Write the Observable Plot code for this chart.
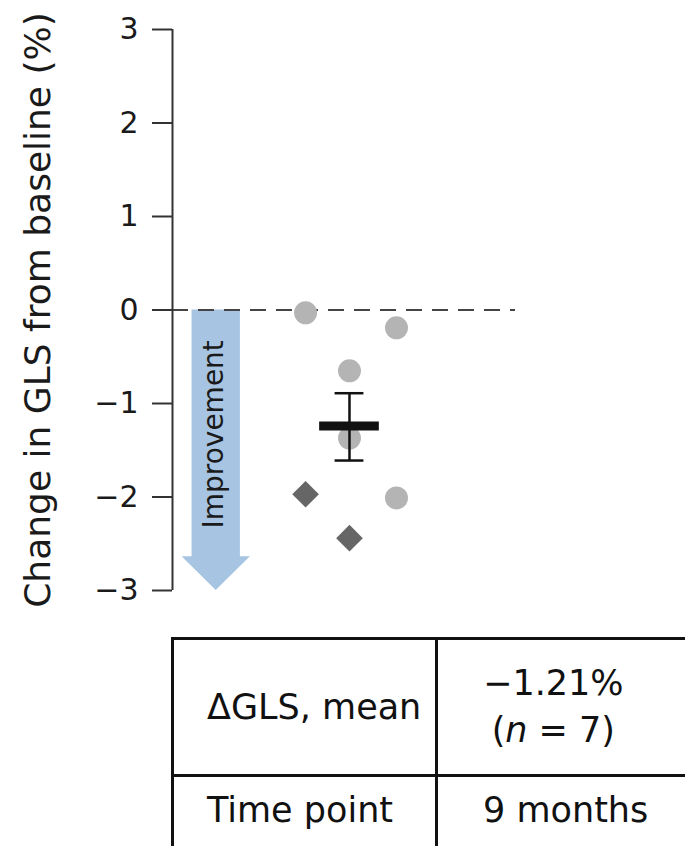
<!DOCTYPE html>
<html>
<head>
<meta charset="utf-8">
<script src="https://cdn.jsdelivr.net/npm/d3@7"></script>
<script src="https://cdn.jsdelivr.net/npm/@observablehq/plot@0.6"></script>
<style>
  html, body { margin: 0; padding: 0; background: #fff; }
  #wrap { position: relative; width: 685px; height: 846px; overflow: hidden; font-family: "DejaVu Sans", sans-serif; color: #111; }
  #wrap g[aria-label="y-axis tick label"] { font-size: 30px; }
  #tbl { position: absolute; left: 171px; top: 637px; border-collapse: collapse; font-size: 35px; }
  #tbl td { border: 3px solid #111; padding: 0; white-space: nowrap; }
  #tbl td.lab { width: 239px; padding-left: 33px; text-align: left; }
  #tbl td.val { width: 231px; padding-left: 45px; text-align: left; border-right: none; }
  #tbl tr.r1 td { height: 134px; }
  #tbl tr.r2 td { height: 80px; vertical-align: top; padding-top: 13px; border-bottom: none; }
  #tbl .stack { display: inline-block; text-align: center; line-height: 47px; }
</style>
</head>
<body>
<div id="wrap"></div>
<script>
// ---- data ----
const yTicks = [-3, -2, -1, 0, 1, 2, 3];
const pointX = [0.388, 0.653, 0.516, 0.516, 0.653, 0.388, 0.516];   // horizontal jitter
const pointY = [-0.03, -0.19, -0.65, -1.37, -2.01, -1.97, -2.44];
const pointShape = ["circle", "circle", "circle", "circle", "circle", "diamond", "diamond"];
const meanChange = -1.24;
const errHigh = -0.89;
const errLow = -1.61;
const yLabel = "Change in GLS from baseline (%)";
const arrowLabel = "Improvement";
const tableLabels = ["ΔGLS, mean", "Time point"];
const tableValues = ["−1.21%", "9 months"];
const tableNoteVar = "n";
const tableNoteVal = "7";

// ---- chart ----
const groupCenter = 0.516;
const points = pointX.map((x, i) => ({x, y: pointY[i], shape: pointShape[i]}));

const arrowCenter = 0.1275, shaftHalf = 0.0705, headHalf = 0.0995, headStart = -2.64, arrowTip = -3;
const arrowShape = [
  {y: 0, x1: arrowCenter - shaftHalf, x2: arrowCenter + shaftHalf},
  {y: headStart, x1: arrowCenter - shaftHalf, x2: arrowCenter + shaftHalf},
  {y: headStart, x1: arrowCenter - headHalf, x2: arrowCenter + headHalf},
  {y: arrowTip, x1: arrowCenter, x2: arrowCenter}
];

const chart = Plot.plot({
  width: 685,
  height: 620,
  marginLeft: 172,
  marginRight: 170,
  marginTop: 29,
  marginBottom: 30,
  x: {domain: [0, 1], axis: null},
  y: {domain: [-3, 3]},
  style: {fontFamily: "DejaVu Sans", fontSize: "30px", color: "#1a1a1a", background: "#fff", overflow: "visible"},
  marks: [
    Plot.areaX(arrowShape, {y: "y", x1: "x1", x2: "x2", fill: "#a7c5e2", curve: "linear"}),
    Plot.ruleY([0], {x1: 0, x2: 1, stroke: "#444", strokeWidth: 2, strokeDasharray: "16,10"}),
    Plot.ruleX([0], {y1: -3, y2: 3, stroke: "#333", strokeWidth: 2}),
    Plot.axisY({ticks: yTicks, tickFormat: d3.format("d"), tickSize: 20, tickPadding: 14, label: null, fontSize: 30, stroke: "#333", strokeWidth: 2}),
    Plot.text([yLabel], {text: d => d, frameAnchor: "left", textAnchor: "middle", dx: -134, rotate: -90, fontSize: 36, fill: "#1a1a1a"}),
    Plot.text([arrowLabel], {text: d => d, x: arrowCenter - 0.006, y: -1.33, rotate: -90, fontSize: 28, fill: "#1a1a1a"}),
    Plot.dot(points.filter(d => d.shape === "circle"), {x: "x", y: "y", r: 11.5, fill: "#b4b4b4", symbol: "circle"}),
    Plot.dot(points.filter(d => d.shape === "diamond"), {x: "x", y: "y", r: 12, fill: "#666666", symbol: "diamond2"}),
    Plot.ruleX([groupCenter], {y1: errLow, y2: errHigh, stroke: "#111", strokeWidth: 2.5}),
    Plot.ruleY([errLow, errHigh], {x1: groupCenter - 0.042, x2: groupCenter + 0.042, stroke: "#111", strokeWidth: 2.5}),
    Plot.ruleY([meanChange], {x1: groupCenter - 0.087, x2: groupCenter + 0.087, stroke: "#111", strokeWidth: 9})
  ]
});

const wrap = document.getElementById("wrap");
wrap.appendChild(chart);

// ---- table below the chart ----
const tbl = document.createElement("table");
tbl.id = "tbl";
const r1 = tbl.insertRow(); r1.className = "r1";
const c11 = r1.insertCell(); c11.className = "lab"; c11.textContent = tableLabels[0];
const c12 = r1.insertCell(); c12.className = "val";
const stack = document.createElement("span"); stack.className = "stack";
stack.appendChild(document.createTextNode(tableValues[0]));
stack.appendChild(document.createElement("br"));
stack.appendChild(document.createTextNode("("));
const it = document.createElement("i"); it.textContent = tableNoteVar;
stack.appendChild(it);
stack.appendChild(document.createTextNode(" = " + tableNoteVal + ")"));
c12.appendChild(stack);
const r2 = tbl.insertRow(); r2.className = "r2";
const c21 = r2.insertCell(); c21.className = "lab"; c21.textContent = tableLabels[1];
const c22 = r2.insertCell(); c22.className = "val"; c22.textContent = tableValues[1];
wrap.appendChild(tbl);
</script>
</body>
</html>
